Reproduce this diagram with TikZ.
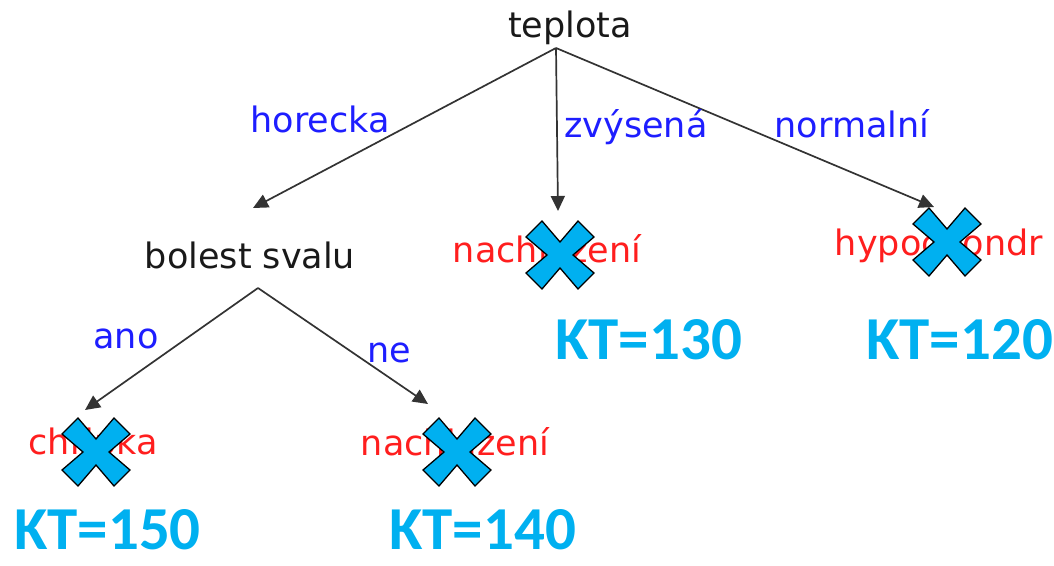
\documentclass[tikz,border=0pt]{standalone}
\usepackage{fontspec}
\setmainfont{DejaVu Sans}
\newfontfamily\ktfont{Carlito}
\usetikzlibrary{arrows.meta}
\definecolor{lblue}{RGB}{30,30,255}
\definecolor{lred}{RGB}{255,30,30}
\definecolor{kcyan}{RGB}{0,176,240}
\begin{document}
\begin{tikzpicture}[x=1pt,y=-1pt,
  txt/.style={inner sep=0pt,anchor=base,font=\fontsize{35}{40}\selectfont},
  blk/.style={txt,text=black!90},
  leaf/.style={txt,text=lred},
  lbl/.style={txt,text=lblue},
  kt/.style={inner sep=0pt,anchor=base west,text=kcyan,text depth=0pt,font=\ktfont\bfseries\fontsize{61}{64}\selectfont},
  edge/.style={draw=black!80,line width=1.7pt,-{Triangle[length=15pt,width=14pt]}},
  xmark/.style={fill=kcyan,draw=black,line width=1.3pt,line join=miter}]
\useasboundingbox (0,0) rectangle (1054,565);
% nodes
\node[blk] (teplota) at (570,37) {teplota};
\node[blk] (bolest) at (250,268) {bolest svalu};
\node[leaf] (nach1) at (547,262) {nachlazení};
\node[leaf] (hypo) at (939,255) {hypochondr};
\node[leaf] (chr) at (93,454) {chřipka};
\node[leaf] (nach2) at (455,455) {nachlazení};
% connector end points
\coordinate (t0) at (556,48);
\coordinate (b0) at (258,288);
\coordinate (eb) at (253,208);
\coordinate (en1) at (558,211);
\coordinate (eh) at (934,207);
\coordinate (ec) at (85,410);
\coordinate (en2) at (428,404);
\draw[edge] (t0) -- (eb);
\draw[edge] (t0) -- (en1);
\draw[edge] (t0) -- (eh);
\draw[edge] (b0) -- (ec);
\draw[edge] (b0) -- (en2);
% edge labels
\node[lbl] (l1) at (320,132) {horecka};
\node[lbl] (l2) at (636,137) {zvýsená};
\node[lbl] (l3) at (852,137) {normalní};
\node[lbl] (l4) at (126,348) {ano};
\node[lbl] (l5) at (389,362) {ne};
% crosses
\foreach \cx/\cy in {560/255, 947/242, 96/452, 457/452}{
  \begin{scope}[shift={(\cx,\cy)}]
  \path[xmark] (-34,-18) -- (-18,-34) -- (0,-13) -- (18,-34) -- (34,-18) -- (13,0)
     -- (34,18) -- (18,34) -- (0,13) -- (-18,34) -- (-34,18) -- (-13,0) -- cycle;
  \end{scope}
}
% KT labels
\node[kt] (k1) at (555,359) {KT=130};
\node[kt] (k2) at (866,359) {KT=120};
\node[kt] (k3) at (14,549) {KT=150};
\node[kt] (k4) at (389,549) {KT=140};
\end{tikzpicture}
\end{document}
